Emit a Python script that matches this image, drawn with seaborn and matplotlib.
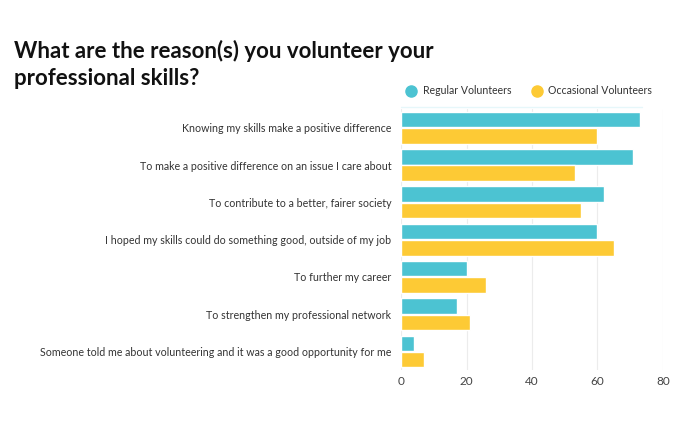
import pandas as pd
import matplotlib.pyplot as plt
import seaborn as sns
from matplotlib.lines import Line2D

# Survey data
reasons = [
    "Knowing my skills make a positive difference",
    "To make a positive difference on an issue I care about",
    "To contribute to a better, fairer society",
    "I hoped my skills could do something good, outside of my job",
    "To further my career",
    "To strengthen my professional network",
    "Someone told me about volunteering and it was a good opportunity for me",
]
regular = [73, 71, 62, 60, 20, 17, 4]
occasional = [60, 53, 55, 65, 26, 21, 7]
groups = ["Regular Volunteers", "Occasional Volunteers"]
colors = ["#4cc3d2", "#fdca35"]

df = pd.DataFrame({
    "reason": reasons * 2,
    "value": regular + occasional,
    "group": [groups[0]] * len(reasons) + [groups[1]] * len(reasons),
})

sns.set_style("white")
plt.rcParams["font.family"] = ["Lato", "DejaVu Sans"]

fig = plt.figure(figsize=(7, 4.47), dpi=100)
ax = fig.add_axes([0.573, 0.172, 0.374, 0.584])

sns.barplot(data=df, y="reason", x="value", hue="group", palette=colors,
            orient="h", width=0.88, gap=0.06, saturation=1, ax=ax, legend=False)

ax.set_xlim(0, 80)
ax.set_ylim(6.5, -0.5)
ax.set_xticks([0, 20, 40, 60, 80])
ax.grid(axis="x", color="#ececec", linewidth=0.8)
ax.set_axisbelow(True)
sns.despine(ax=ax, left=True, bottom=True)
ax.set_xlabel("")
ax.set_ylabel("")
ax.tick_params(axis="x", length=0, labelsize=8.5, labelcolor="#444444", pad=4)
ax.tick_params(axis="y", length=0, labelsize=7.7, labelcolor="#333333", pad=7)

# faint line under the legend
ax.axhline(-0.55, xmin=0, xmax=0.92, color="#e6f7fa", linewidth=1, clip_on=False)

fig.text(0.02, 0.80, "What are the reason(s) you volunteer your\nprofessional skills?",
         fontsize=16, fontweight="bold", color="#111111", linespacing=1.4, va="bottom")

handles = [Line2D([], [], marker="o", linestyle="", markersize=8,
                  markerfacecolor=c, markeredgecolor=c) for c in colors]
fig.legend(handles, groups, loc="center left", bbox_to_anchor=(0.559, 0.797),
           ncol=2, frameon=False, fontsize=7.6, handletextpad=0.1, columnspacing=1.4,
           labelcolor="#333333")

fig.savefig("out.png", dpi=100)
